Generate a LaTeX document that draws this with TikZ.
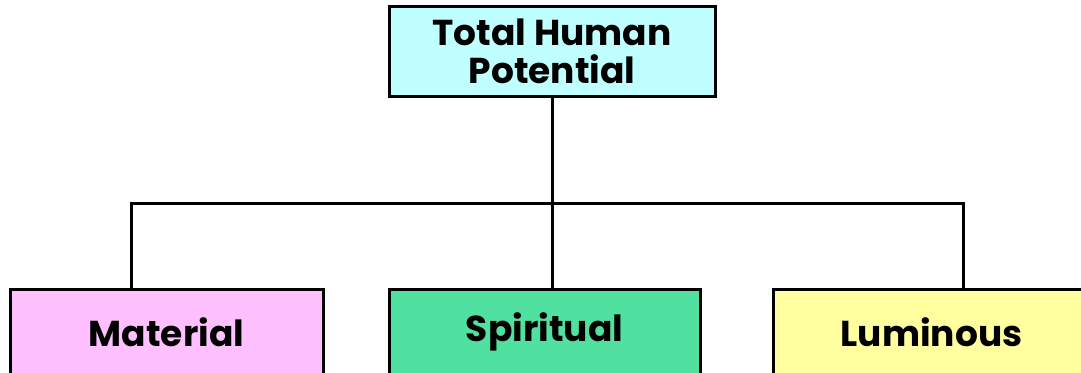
\documentclass[tikz,border=0pt]{standalone}
\usepackage{fontspec}
\setmainfont{Poppins}
\definecolor{topc}{HTML}{C0FFFF}
\definecolor{matc}{HTML}{FFC0FF}
\definecolor{spic}{HTML}{50E0A0}
\definecolor{lumc}{HTML}{FFFFA0}
\begin{document}
\begin{tikzpicture}[x=1pt,y=-1pt,
  box/.style={draw=black,line width=3pt,inner sep=0pt,align=center,
    font=\fontsize{36}{38}\selectfont\bfseries},
  conn/.style={line width=3pt}]
\useasboundingbox (0,0) rectangle (1081,372);
\clip (0,0) rectangle (1081,372);
\node[box,fill=topc,minimum width=326pt,minimum height=90pt] (top) at (552,51) {Total Human\\Potential};
\node[box,fill=matc,minimum width=313pt,minimum height=86pt] (mat) at (166.5,332) {Material};
\node[box,fill=spic,minimum width=311pt,minimum height=86pt] (spi) at (544.5,332) {Spiritual};
\node[box,fill=lumc,minimum width=317pt,minimum height=86pt] (lum) at (931.5,332) {Luminous};
\coordinate (hl) at (131,203);
\coordinate (hr) at (963,203);
\draw[conn] (top.south) -- (spi.north -| top.south);
\draw[conn] (mat.north -| hl) -- (hl) -- (hr) -- (lum.north -| hr);
\end{tikzpicture}
\end{document}
